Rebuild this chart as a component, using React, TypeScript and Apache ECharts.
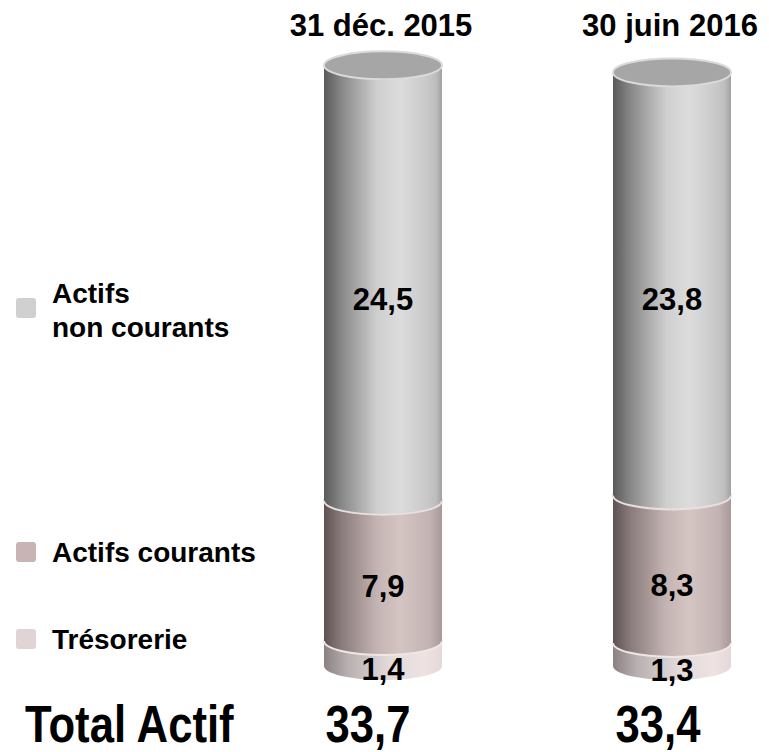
import React, { useEffect, useRef } from "react";
import * as echarts from "echarts";

const categories = ["31 déc. 2015", "30 juin 2016"];
const seriesNames = ["Trésorerie", "Actifs courants", "Actifs non courants"];
const tresorerie = [1.4, 1.3];
const actifsCourants = [7.9, 8.3];
const actifsNonCourants = [24.5, 23.8];
const totals = ["33,7", "33,4"];
const legendLines = [["Actifs", "non courants"], ["Actifs courants"], ["Trésorerie"]];

const fmt = (v: number) => v.toFixed(1).replace(".", ",");

const sideStops = [
  [
    { offset: 0, color: "#8a8282" },
    { offset: 0.2, color: "#b8b0b0" },
    { offset: 0.55, color: "#e2dada" },
    { offset: 0.85, color: "#eee2e2" },
    { offset: 1, color: "#e4d8d8" },
  ],
  [
    { offset: 0, color: "#5e5252" },
    { offset: 0.15, color: "#8a7c7c" },
    { offset: 0.45, color: "#c4b4b3" },
    { offset: 0.65, color: "#d4c4c2" },
    { offset: 0.9, color: "#c2b2b1" },
    { offset: 1, color: "#a89898" },
  ],
  [
    { offset: 0, color: "#5a5a5a" },
    { offset: 0.15, color: "#888888" },
    { offset: 0.45, color: "#cfcfcf" },
    { offset: 0.65, color: "#dcdcdc" },
    { offset: 0.88, color: "#c8c8c8" },
    { offset: 0.95, color: "#bdbdbd" },
    { offset: 1, color: "#a0a0a0" },
  ],
];
const legendColors = ["#e0d4d4", "#c8b4b4", "#d0d0d0"];

export default function App() {
  const ref = useRef<HTMLDivElement>(null);
  useEffect(() => {
    document.body.style.margin = "0";
    if (!ref.current) return;
    const chart = echarts.init(ref.current, null, { renderer: "svg" });
    const segs = [tresorerie, actifsCourants, actifsNonCourants];
    const bases = categories.map((_, i) => {
      let acc = 0;
      return segs.map((s) => {
        const b = acc;
        acc += s[i];
        return b;
      });
    });
    const W = 118;
    const RY = 14;

    const segSeries = segs.map((vals, si) => ({
      type: "custom",
      name: seriesNames[si],
      z: 2 + si,
      data: categories.map((_, i) => [i, bases[i][si], bases[i][si] + vals[i]]),
      renderItem: (params: any, api: any) => {
        const x = api.coord([api.value(0), 0])[0];
        const yb = api.coord([api.value(0), api.value(1)])[1];
        const yt = api.coord([api.value(0), api.value(2)])[1];
        const grad = () => new echarts.graphic.LinearGradient(0, 0, 1, 0, sideStops[si]);
        const children: any[] = [
          {
            type: "ellipse",
            shape: { cx: x, cy: yb, rx: W / 2, ry: RY },
            style: { fill: grad(), stroke: si > 0 ? (si === 2 ? "#e8e0e0" : "#f0e6e6") : "none", lineWidth: si > 0 ? 2 : 0 },
          },
          {
            type: "rect",
            shape: { x: x - W / 2, y: yt, width: W, height: yb - yt },
            style: { fill: grad() },
          },
        ];
        if (si === 2) {
          children.push({
            type: "ellipse",
            shape: { cx: x, cy: yt, rx: W / 2, ry: RY },
            style: { fill: "#a6a6a6", stroke: "#dadada", lineWidth: 2 },
          });
        }
        return { type: "group", children };
      },
    }));

    const labelData: any[] = [];
    segs.forEach((vals, si) => {
      categories.forEach((_, i) => {
        labelData.push([i, bases[i][si] + vals[i] / 2, vals[i]]);
      });
    });

    const labelSeries = {
      type: "custom",
      z: 10,
      data: labelData,
      renderItem: (params: any, api: any) => {
        const p = api.coord([api.value(0), api.value(1)]);
        return {
          type: "text",
          style: {
            text: fmt(api.value(2)),
            x: p[0],
            y: p[1] + 16,
            align: "center",
            verticalAlign: "middle",
            font: "bold 31px 'Liberation Sans', Arial, sans-serif",
            fill: "#000",
          },
        };
      },
    };

    const legendGraphics: any[] = [];
    const legendY = [[293, 327], [552], [639]];
    const markerY = [308, 552, 639];
    legendLines.forEach((lines, li) => {
      const si = 2 - li;
      legendGraphics.push({
        type: "rect",
        shape: { x: 16, y: markerY[li] - 10, width: 20, height: 20, r: 3 },
        style: { fill: legendColors[si] },
      });
      lines.forEach((t, k) => {
        legendGraphics.push({
          type: "text",
          style: {
            text: t,
            x: 52,
            y: legendY[li][k],
            verticalAlign: "middle",
            font: "bold 28px 'Liberation Sans', Arial, sans-serif",
            fill: "#000",
          },
        });
      });
    });

    const headerX = [381, 670];
    const totalX = [368, 658];
    const headers = categories.map((c, i) => ({
      type: "text",
      style: {
        text: c,
        x: headerX[i],
        y: 25,
        align: "center",
        verticalAlign: "middle",
        font: "bold 31px 'Liberation Sans', Arial, sans-serif",
        fill: "#000",
      },
    }));
    const narrowFont = "bold 52px 'Liberation Sans', Arial, sans-serif";
    const totalTexts: any[] = totals.map((t, i) => ({
      type: "text",
      x: totalX[i],
      y: 724,
      scaleX: 0.84,
      style: {
        text: t,
        x: 0,
        y: 0,
        align: "center",
        verticalAlign: "middle",
        font: narrowFont,
        fill: "#000",
      },
    }));
    totalTexts.push({
      type: "text",
      x: 25,
      y: 724,
      scaleX: 0.84,
      style: {
        text: "Total Actif",
        x: 0,
        y: 0,
        align: "left",
        verticalAlign: "middle",
        font: narrowFont,
        fill: "#000",
      },
    });

    chart.setOption({
      animation: false,
      grid: { left: 383, right: 97, top: 44, bottom: 86 },
      xAxis: { type: "category", data: categories, boundaryGap: false, show: false },
      yAxis: { type: "value", min: 0, max: 35, show: false },
      series: [...segSeries, labelSeries],
      graphic: [...legendGraphics, ...headers, ...totalTexts],
    });
    return () => chart.dispose();
  }, []);
  return <div ref={ref} style={{ width: 769, height: 752 }} />;
}
